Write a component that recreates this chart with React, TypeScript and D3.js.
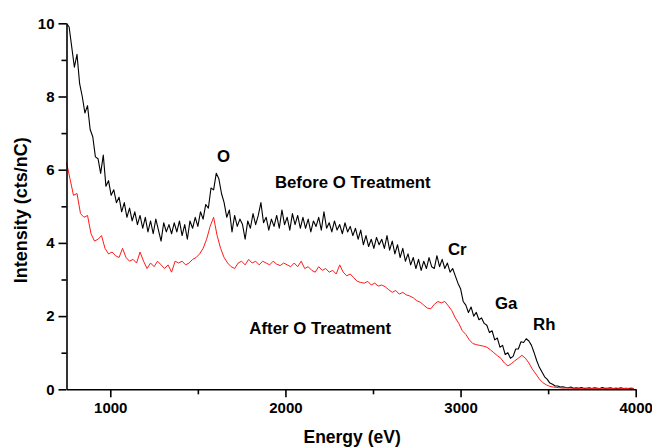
import React, { useEffect, useRef } from "react";
import * as d3 from "d3";

// Spectrum before oxygen treatment: intensity (cts/nC) sampled every 15 eV from 750 eV
const beforeStartEV = 750;
const beforeStepEV = 15;
const beforeIntensity = [
  10.0, 9.9, 9.35, 8.8, 9.15, 8.35, 8.0, 7.55, 7.75, 7.1,
  6.9, 6.35, 6.3, 5.9, 6.4, 5.55, 5.7, 5.3, 5.45, 5.1,
  5.25, 4.85, 5.1, 4.7, 4.95, 4.6, 4.85, 4.5, 4.75, 4.4,
  4.7, 4.3, 4.6, 4.25, 4.65, 4.35, 4.05, 4.55, 4.3, 4.5,
  4.25, 4.55, 4.3, 4.6, 4.2, 4.5, 4.1, 4.6, 4.4, 4.7,
  4.45, 4.85, 4.65, 5.05, 4.95, 5.5, 5.45, 5.9, 5.75, 5.35,
  5.1, 4.7, 4.9, 4.3, 4.75, 4.45, 4.65, 4.5, 4.1, 4.6,
  4.4, 4.8, 4.5, 4.75, 5.1, 4.55, 4.7, 4.35, 4.65, 4.45,
  4.75, 4.4, 4.9, 4.5, 4.7, 4.35, 4.8, 4.5, 4.75, 4.4,
  4.7, 4.4, 4.65, 4.3, 4.6, 4.45, 4.7, 4.35, 4.85, 4.4,
  4.55, 4.3, 4.6, 4.35, 4.5, 4.25, 4.55, 4.3, 4.45, 4.2,
  4.4, 4.1, 4.35, 3.95, 4.2, 3.9, 4.1, 3.85, 4.15, 3.95,
  4.1, 3.85, 4.2, 3.8, 4.05, 3.7, 3.95, 3.6, 3.85, 3.5,
  3.7, 3.4, 3.6, 3.3, 3.55, 3.25, 3.5, 3.3, 3.6, 3.35,
  3.3, 3.65, 3.35, 3.55, 3.3, 3.45, 3.2, 3.3, 3.1, 2.9,
  2.75, 2.4, 2.3, 2.1, 2.25, 2.0, 2.1, 1.9, 1.95, 1.8,
  1.75, 1.55, 1.6, 1.35, 1.4, 1.15, 1.2, 0.95, 1.0, 0.85,
  0.9, 1.1, 1.1, 1.3, 1.28, 1.38, 1.32, 1.2, 1.0, 0.78,
  0.6, 0.47, 0.34, 0.27, 0.17, 0.14, 0.09, 0.09, 0.06, 0.07,
  0.05, 0.04, 0.06, 0.03, 0.04, 0.03, 0.05, 0.02, 0.03, 0.04,
  0.02, 0.04, 0.03, 0.02, 0.05, 0.02, 0.03, 0.04, 0.02, 0.03,
  0.02, 0.04, 0.02, 0.03, 0.02, 0.03, 0.02,
];

// Spectrum after oxygen treatment: intensity (cts/nC) sampled every 20 eV from 750 eV
const afterStartEV = 750;
const afterStepEV = 20;
const afterIntensity = [
  6.2, 5.75, 5.3, 5.35, 4.8, 4.7, 4.75, 4.25, 4.05, 4.1,
  4.2, 3.85, 3.7, 3.75, 3.65, 3.6, 3.85, 3.6, 3.5, 3.55,
  3.45, 3.75, 3.5, 3.3, 3.45, 3.35, 3.5, 3.4, 3.3, 3.4,
  3.2, 3.5, 3.45, 3.5, 3.4, 3.45, 3.55, 3.6, 3.7, 3.85,
  4.1, 4.45, 4.7, 4.2, 3.85, 3.6, 3.45, 3.35, 3.3, 3.45,
  3.5, 3.4, 3.55, 3.45, 3.5, 3.4, 3.5, 3.45, 3.4, 3.5,
  3.42, 3.38, 3.45, 3.4, 3.35, 3.45, 3.35, 3.5, 3.3, 3.35,
  3.25, 3.2, 3.35, 3.25, 3.3, 3.2, 3.25, 3.15, 3.4, 3.2,
  3.1, 3.15, 3.05, 2.95, 2.92, 2.9, 2.95, 2.85, 2.9, 2.82,
  2.85, 2.8, 2.72, 2.65, 2.7, 2.6, 2.65, 2.58, 2.55, 2.5,
  2.42, 2.38, 2.3, 2.22, 2.2, 2.32, 2.4, 2.36, 2.4, 2.28,
  2.15, 1.95, 1.8, 1.6, 1.5, 1.35, 1.25, 1.22, 1.2, 1.18,
  1.15, 1.08, 1.0, 0.92, 0.85, 0.72, 0.64, 0.7, 0.78, 0.85,
  0.93, 0.85, 0.72, 0.55, 0.42, 0.28, 0.18, 0.12, 0.08, 0.06,
  0.05, 0.04, 0.03, 0.04, 0.03, 0.02, 0.03, 0.02, 0.03, 0.02,
  0.02, 0.03, 0.02, 0.02, 0.03, 0.02, 0.02, 0.03, 0.02, 0.02,
  0.02, 0.03, 0.02,
];

const xMajorTicks = [1000, 2000, 3000, 4000];
const xMinorTicks = [1500, 2500, 3500];
const yMajorTicks = [0, 2, 4, 6, 8, 10];
const yMinorTicks = [1, 3, 5, 7, 9];

// Element edges and curve labels, anchored in data units (eV, cts/nC)
const annotationText = ["O", "Before O Treatment", "Cr", "Ga", "Rh", "After O Treatment"];
const annotationEnergy = [1646, 1940, 2928, 3197, 3414, 1794];
const annotationIntensity = [6.21, 5.5, 3.66, 2.19, 1.62, 1.52];
const annotationAnchor = ["middle", "start", "start", "start", "start", "start"];

const WIDTH = 652;
const HEIGHT = 448;
const FONT = "'Liberation Sans', Arial, Helvetica, sans-serif";

export default function App() {
  const xAxisRef = useRef<SVGGElement>(null);
  const yAxisRef = useRef<SVGGElement>(null);

  const x = d3.scaleLinear().domain([750, 4000]).range([66.5, 635.7]);
  const y = d3.scaleLinear().domain([0, 10]).range([389.3, 23.3]);

  const toPoints = (start: number, step: number, vals: number[]) =>
    vals.map((v, i) => [start + i * step, v] as [number, number]);

  const line = d3
    .line<[number, number]>()
    .x((d) => x(d[0]))
    .y((d) => y(d[1]));

  const beforePath = line(toPoints(beforeStartEV, beforeStepEV, beforeIntensity)) || "";
  const afterPath = line(toPoints(afterStartEV, afterStepEV, afterIntensity)) || "";

  useEffect(() => {
    const gx = d3.select(xAxisRef.current!);
    gx.selectAll("*").remove();
    gx.append("g").call(
      d3
        .axisBottom(x)
        .tickValues(xMajorTicks)
        .tickSize(8)
        .tickSizeOuter(0)
        .tickPadding(5)
        .tickFormat(d3.format("d"))
    );
    const gxMinor = gx.append("g").call(
      d3.axisBottom(x).tickValues(xMinorTicks).tickSize(5).tickSizeOuter(0).tickFormat(() => "")
    );
    gxMinor.select(".domain").remove();

    const gy = d3.select(yAxisRef.current!);
    gy.selectAll("*").remove();
    gy.append("g").call(
      d3
        .axisLeft(y)
        .tickValues(yMajorTicks)
        .tickSize(8)
        .tickSizeOuter(0)
        .tickPadding(4)
        .tickFormat(d3.format("d"))
    );
    const gyMinor = gy.append("g").call(
      d3.axisLeft(y).tickValues(yMinorTicks).tickSize(5).tickSizeOuter(0).tickFormat(() => "")
    );
    gyMinor.select(".domain").remove();

    [gx, gy].forEach((g) => {
      g.selectAll("g").attr("font-family", FONT).attr("font-size", 15).attr("font-weight", "bold");
      g.selectAll("path.domain").attr("stroke", "#000").attr("stroke-width", 1.6);
      g.selectAll(".tick line").attr("stroke", "#000").attr("stroke-width", 1.6);
      g.selectAll(".tick text").attr("fill", "#000");
    });
  }, []);

  return (
    <svg
      width={WIDTH}
      height={HEIGHT}
      style={{ position: "absolute", left: 0, top: 0, background: "#fff" }}
    >
      <rect width={WIDTH} height={HEIGHT} fill="#fff" />
      <path d={beforePath} fill="none" stroke="#000" strokeWidth={1.1} strokeLinejoin="round" />
      <path d={afterPath} fill="none" stroke="#ff1a1a" strokeWidth={1} strokeLinejoin="round" />
      <g ref={xAxisRef} transform={`translate(0,${y(0)})`} />
      <g ref={yAxisRef} transform={`translate(${x(750)},0)`} />
      {annotationText.map((t, i) => (
        <text
          key={t}
          x={x(annotationEnergy[i])}
          y={y(annotationIntensity[i])}
          textAnchor={annotationAnchor[i] as "start" | "middle"}
          fontFamily={FONT}
          fontWeight="bold"
          fontSize={16.8}
          fill="#000"
        >
          {t}
        </text>
      ))}
      <text
        x={(x(750) + x(4000)) / 2 + 1}
        y={443}
        textAnchor="middle"
        fontFamily={FONT}
        fontWeight="bold"
        fontSize={17.5}
        fill="#000"
      >
        Energy (eV)
      </text>
      <text
        transform={`translate(27,${(y(0) + y(10)) / 2 + 4}) rotate(-90)`}
        textAnchor="middle"
        fontFamily={FONT}
        fontWeight="bold"
        fontSize={18}
        fill="#000"
      >
        Intensity (cts/nC)
      </text>
    </svg>
  );
}
